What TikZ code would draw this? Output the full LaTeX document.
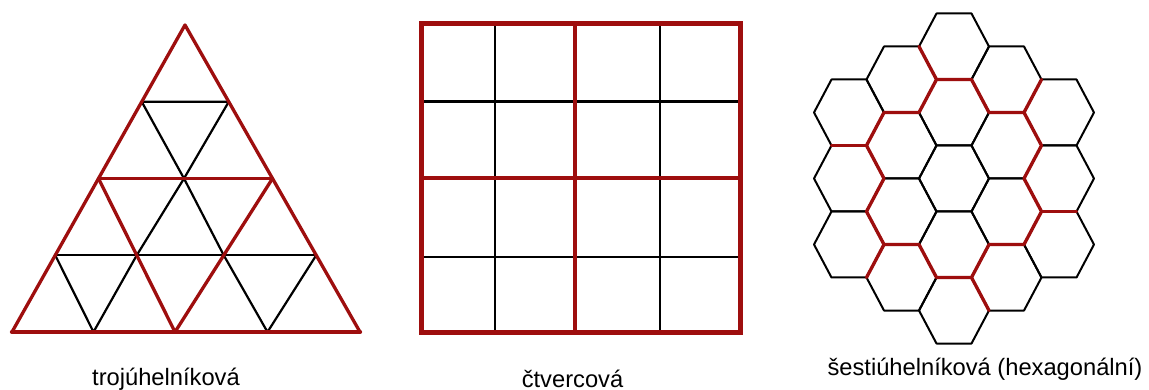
\documentclass[tikz,border=0pt]{standalone}
\usepackage{fontspec}
\setmainfont{Liberation Sans}
\usetikzlibrary{calc}
\definecolor{gridred}{RGB}{158,14,14}
\begin{document}
\begin{tikzpicture}[x=1pt,y=-1pt,
  redline/.style={draw=gridred, line width=3.3pt, line cap=round, line join=round},
  blackline/.style={draw=black, line width=2.2pt, line cap=round, line join=round},
  caption/.style={font=\fontsize{23.7}{28}\selectfont, anchor=base, inner sep=0pt, text=black}]
\useasboundingbox[fill=white] (0,0) rectangle (1149,390);

% ---------------- triangular grid ----------------
\coordinate (A) at (185,25);
\coordinate (BL) at (12,332);
\coordinate (BR) at (360,332);
\coordinate (L1) at ($(A)!0.25!(BL)$);
\coordinate (L2) at ($(A)!0.5!(BL)$);
\coordinate (L3) at ($(A)!0.75!(BL)$);
\coordinate (R1) at ($(A)!0.25!(BR)$);
\coordinate (R2) at ($(A)!0.5!(BR)$);
\coordinate (R3) at ($(A)!0.75!(BR)$);
\coordinate (B2) at (175,332);
\coordinate (B1) at ($(BL)!0.5!(B2)$);
\coordinate (B3) at ($(B2)!0.5!(BR)$);
\coordinate (M2) at (184,178.5);
\coordinate (M3a) at ($(L2)!0.5!(B2)$);
\coordinate (M3b) at ($(R2)!0.5!(B2)$);

\draw[blackline] (L1) -- (R1) -- (M2) -- cycle;
\draw[blackline] (L3) -- (R3);
\draw[blackline] (L3) -- (B1) -- (M3a) -- (M2) -- (M3b) -- (B3) -- (R3);
\draw[redline] (L2) -- (R2);
\draw[redline] (L2) -- (B2) -- (R2);
\draw[redline] (BL) -- (A) -- (BR);
\draw[redline, line width=4.3pt] (BL) -- (BR);

% ---------------- square grid ----------------
\coordinate (S00) at (421.7,23.3);
\coordinate (S11) at (740.7,332.7);
\draw[blackline] (495,23.3) -- (495,332.7);
\draw[blackline] (660,23.3) -- (660,332.7);
\draw[blackline] (421.7,101.5) -- (740.7,101.5);
\draw[blackline] (421.7,257) -- (740.7,257);
\draw[redline, line width=4.2pt, line cap=butt] (575,23.3) -- (575,332.7);
\draw[redline, line width=4.2pt, line cap=butt] (421.7,178) -- (740.7,178);
\draw[redline, line width=5.2pt, line join=miter] (S00) rectangle (S11);

% ---------------- hexagonal grid ----------------
\begin{scope}[shift={(954,178.5)}, x=17.5pt, y=33pt]
  \foreach \q/\yc in {0/-4,0/-2,0/0,0/2,0/4,
                      -1/-3,-1/-1,-1/1,-1/3,
                       1/-3, 1/-1, 1/1, 1/3,
                      -2/-2,-2/0,-2/2,
                       2/-2, 2/0, 2/2}
    \draw[blackline, line width=2pt, shift={(3*\q,\yc)}]
      (-2,0) -- (-1,-1) -- (1,-1) -- (2,0) -- (1,1) -- (-1,1) -- cycle;
  \draw[redline] (1,-3) -- (-1,-3) -- (-2,-2) -- (-4,-2) -- (-5,-1) -- (-4,0)
     -- (-5,1) -- (-4,2) -- (-2,2) -- (-1,3) -- (1,3) -- (2,2) -- (4,2)
     -- (5,1) -- (4,0) -- (5,-1) -- (4,-2) -- (2,-2) -- cycle;
  \draw[redline] (1,-3) -- (2,-4);
  \draw[redline] (-4,-2) -- (-5,-3);
  \draw[redline] (-5,1) -- (-7,1);
  \draw[redline] (-1,3) -- (-2,4);
  \draw[redline] (4,2) -- (5,3);
  \draw[redline] (5,-1) -- (7,-1);
\end{scope}

% ---------------- captions ----------------
\node[caption] (captri) at (166,385) {trojúhelníková};
\node[caption] (capsq) at (572.5,387) {čtvercová};
\node[caption] (caphex) at (985,375) {šestiúhelníková (hexagonální)};
\end{tikzpicture}
\end{document}
